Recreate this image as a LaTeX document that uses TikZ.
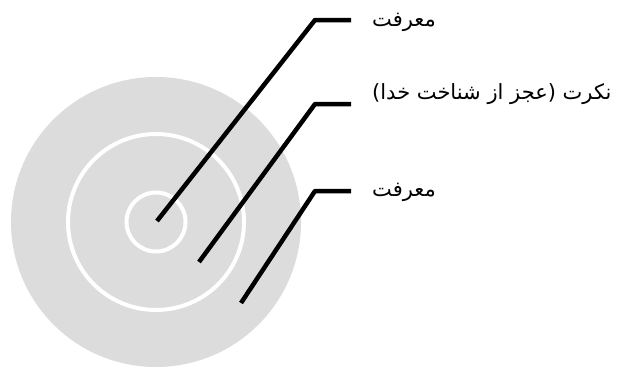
\documentclass[tikz,border=0pt]{standalone}
\usepackage{fontspec}
\TeXXeTstate=1
\newfontfamily\arabicfont[Script=Arabic]{DejaVu Sans}
\begin{document}
\begin{tikzpicture}[x=1pt,y=-1pt,
  disc/.style={fill=discgray,draw=none},
  ring/.style={draw=white,line width=4pt},
  leader/.style={draw=black,line width=4.5pt,line join=bevel},
  lbl/.style={anchor=west,inner sep=0pt,font=\arabicfont\fontsize{21}{24}\selectfont}]
\definecolor{discgray}{RGB}{220,220,220}
\useasboundingbox (0,0) rectangle (626,367);
\coordinate (o) at (156,222);
\fill[disc] (o) circle[radius=145];
\draw[ring] (o) circle[radius=88];
\draw[ring] (o) circle[radius=29.5];
\node[lbl] (l1) at (372,22) {\beginR معرفت\endR};
\node[lbl] (l2) at (372,94) {\beginR نکرت (عجز از شناخت خدا)\endR};
\node[lbl] (l3) at (372,192) {\beginR معرفت\endR};
\coordinate (p1) at (157,221);
\coordinate (c1) at (315,20);
\coordinate (e1) at (351,20);
\coordinate (p2) at (199,262);
\coordinate (c2) at (315,104);
\coordinate (e2) at (351,104);
\coordinate (p3) at (241,303);
\coordinate (c3) at (315,191);
\coordinate (e3) at (351,191);
\draw[leader] (p1) -- (c1) -- (e1);
\draw[leader] (p2) -- (c2) -- (e2);
\draw[leader] (p3) -- (c3) -- (e3);
\end{tikzpicture}
\end{document}
